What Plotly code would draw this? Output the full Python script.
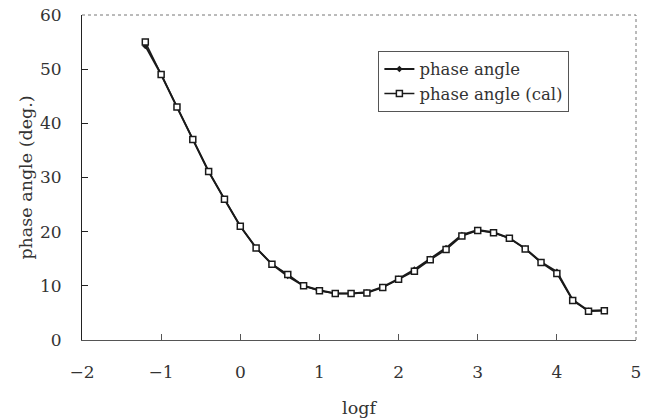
import plotly.graph_objects as go

logf = [-1.2, -1.0, -0.8, -0.6, -0.4, -0.2, 0.0, 0.2, 0.4, 0.6, 0.8, 1.0, 1.2, 1.4, 1.6,
        1.8, 2.0, 2.2, 2.4, 2.6, 2.8, 3.0, 3.2, 3.4, 3.6, 3.8, 4.0, 4.2, 4.4, 4.6]
phase_meas = [54.3, 49.0, 43.0, 37.0, 31.1, 26.0, 21.0, 17.0, 14.0, 11.8, 10.0, 9.2, 8.6, 8.6, 8.8,
              9.8, 11.3, 13.0, 15.0, 17.0, 19.4, 20.3, 19.9, 18.8, 16.9, 14.4, 12.6, 7.4, 5.4, 5.5]
phase_cal = [55.0, 49.0, 43.0, 37.0, 31.1, 26.0, 21.0, 17.0, 14.0, 12.1, 10.0, 9.1, 8.6, 8.6, 8.7,
             9.7, 11.2, 12.7, 14.8, 16.7, 19.2, 20.2, 19.8, 18.8, 16.8, 14.3, 12.3, 7.3, 5.3, 5.4]
x_ticks = [-2, -1, 0, 1, 2, 3, 4, 5]
y_ticks = [0, 10, 20, 30, 40, 50, 60]

FONT = "DejaVu Serif"

fig = go.Figure()
fig.add_trace(go.Scatter(
    x=logf, y=phase_meas, mode="lines+markers", name="phase angle",
    line=dict(color="#1a1a1a", width=2),
    marker=dict(symbol="diamond", size=5, color="#1a1a1a"),
))
fig.add_trace(go.Scatter(
    x=logf, y=phase_cal, mode="lines+markers", name="phase angle (cal)",
    line=dict(color="#1a1a1a", width=1.5),
    marker=dict(symbol="square", size=6, color="white", line=dict(color="#1a1a1a", width=1.5)),
))

# dotted top and right frame
fig.add_shape(type="line", xref="paper", yref="paper", x0=0, x1=1, y0=1, y1=1,
              line=dict(color="#777777", width=1, dash="dot"))
fig.add_shape(type="line", xref="paper", yref="paper", x0=1, x1=1, y0=0, y1=1,
              line=dict(color="#777777", width=1, dash="dot"))

fig.update_layout(
    width=656, height=419,
    margin=dict(l=82, r=20, t=15, b=79, autoexpand=False),
    paper_bgcolor="white", plot_bgcolor="white",
    font=dict(family=FONT, color="#333333", size=16),
    showlegend=True,
    legend=dict(
        x=0.535, y=0.89, xanchor="left", yanchor="top",
        bgcolor="white", bordercolor="#555555", borderwidth=1,
        font=dict(family=FONT, size=16.5, color="#333333"),
        tracegroupgap=2, itemwidth=30,
    ),
    xaxis=dict(
        range=[-2, 5], tickvals=x_ticks, ticktext=[str(v).replace("-", "\u2212") for v in x_ticks],
        showgrid=False, zeroline=False, automargin=False,
        showline=True, linecolor="#555555", linewidth=1,
        ticks="inside", ticklen=6, tickcolor="#555555",
        ticklabelstandoff=17,
        tickfont=dict(family=FONT, size=17),
        title=dict(text="logf", font=dict(family=FONT, size=17.5), standoff=20),
    ),
    yaxis=dict(
        range=[0, 60], tickvals=y_ticks,
        showgrid=False, zeroline=False, automargin=False,
        showline=True, linecolor="#222222", linewidth=1,
        ticks="inside", ticklen=6, tickcolor="#222222",
        ticklabelstandoff=16,
        tickfont=dict(family=FONT, size=17),
        title=dict(text="phase angle (deg.)", font=dict(family=FONT, size=17.5), standoff=2),
    ),
)

fig.write_html("out.html")
